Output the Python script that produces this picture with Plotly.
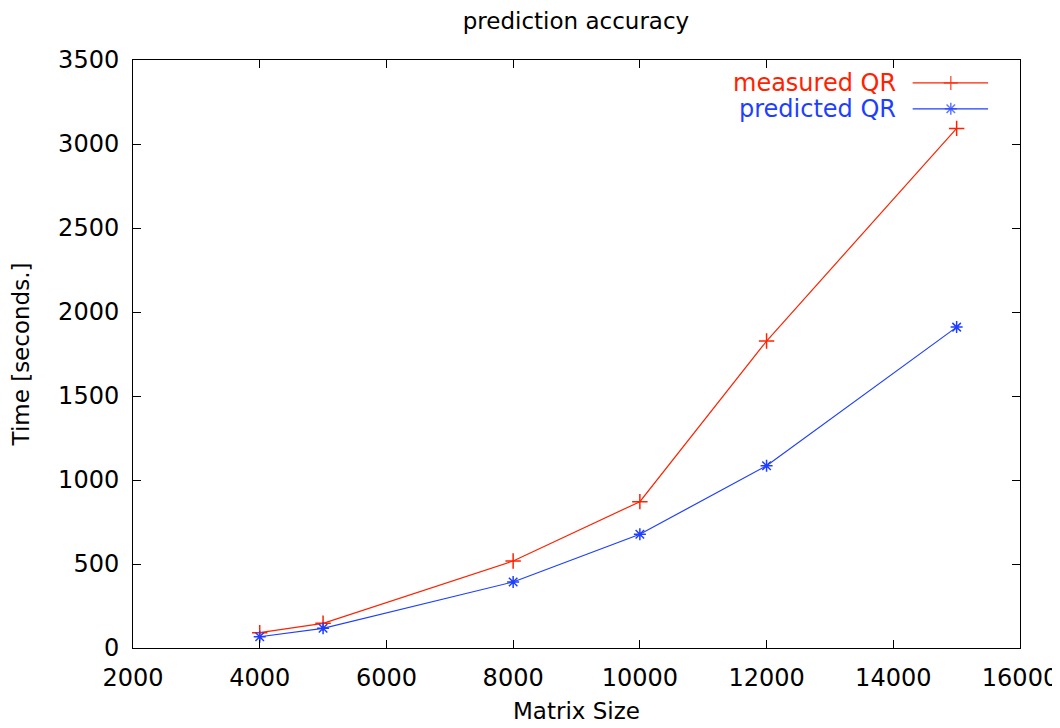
import plotly.graph_objects as go

matrix_size = [4000, 5000, 8000, 10000, 12000, 15000]
measured_qr = [91, 147, 518, 871, 1827, 3093]
predicted_qr = [67, 117, 393, 677, 1085, 1910]
series_names = ["measured QR", "predicted QR"]
series_colors = ["#ff2200", "#1f3fff"]
x_ticks = [2000, 4000, 6000, 8000, 10000, 12000, 14000, 16000]
y_ticks = [0, 500, 1000, 1500, 2000, 2500, 3000, 3500]

FONT = "DejaVu Sans"
# page has an 8px body offset; figure is sized so the plot lands where the reference has it
W, H = 1052, 720

fig = go.Figure()
fig.add_trace(go.Scatter(
    x=matrix_size, y=measured_qr, mode="lines+markers", name=series_names[0],
    line=dict(color=series_colors[0], width=1.2),
    marker=dict(symbol="cross-thin-open", size=11, line=dict(color=series_colors[0], width=1.5)),
    showlegend=False))
fig.add_trace(go.Scatter(
    x=matrix_size, y=predicted_qr, mode="lines+markers", name=series_names[1],
    line=dict(color=series_colors[1], width=1.2),
    marker=dict(symbol="asterisk-open", size=10, line=dict(color=series_colors[1], width=1.5)),
    showlegend=False))

# gnuplot-style legend (text left, line sample right) on an overlay axis
legend_y = [0.961, 0.917]
legend_markers = ["cross-thin-open", "asterisk-open"]
for i in range(2):
    fig.add_trace(go.Scatter(
        x=[0.879, 0.922, 0.964], y=[legend_y[i]] * 3, xaxis="x2", yaxis="y2",
        mode="lines+markers", showlegend=False, hoverinfo="skip",
        line=dict(color=series_colors[i], width=1.2),
        marker=dict(symbol=legend_markers[i], size=[0, 10, 0],
                    line=dict(color=series_colors[i], width=1.5))))
    fig.add_annotation(x=0.862, y=legend_y[i], xref="x2", yref="y2",
                       text=series_names[i], showarrow=False, xanchor="right",
                       font=dict(family=FONT, size=24, color=series_colors[i]))

axis_common = dict(showline=True, mirror="ticks", linecolor="black", linewidth=1,
                   ticks="inside", ticklen=8, tickcolor="black", showgrid=False,
                   zeroline=False, automargin=False,
                   tickfont=dict(family=FONT, size=24, color="black"))

fig.update_layout(
    width=W, height=H,
    margin=dict(l=125, r=40, t=52, b=80),
    paper_bgcolor="white", plot_bgcolor="white",
    title=dict(text="prediction accuracy", x=568 / W, xref="container", xanchor="center",
               y=1 - 13 / H, yref="container", yanchor="middle",
               font=dict(family=FONT, size=23, color="black")),
    xaxis=dict(range=[2000, 16000], tickvals=x_ticks, ticktext=[str(v) for v in x_ticks],
               ticklabelstandoff=8,
               title=dict(text="Matrix Size", font=dict(family=FONT, size=23, color="black"), standoff=12),
               **axis_common),
    yaxis=dict(range=[0, 3500], tickvals=y_ticks, ticktext=[str(v) for v in y_ticks],
               ticklabelstandoff=8,
               title=dict(text="Time [seconds.]", font=dict(family=FONT, size=23, color="black"), standoff=22),
               **axis_common),
    xaxis2=dict(overlaying="x", range=[0, 1], visible=False, fixedrange=True),
    yaxis2=dict(overlaying="y", range=[0, 1], visible=False, fixedrange=True),
)

fig.write_html("out.html")
